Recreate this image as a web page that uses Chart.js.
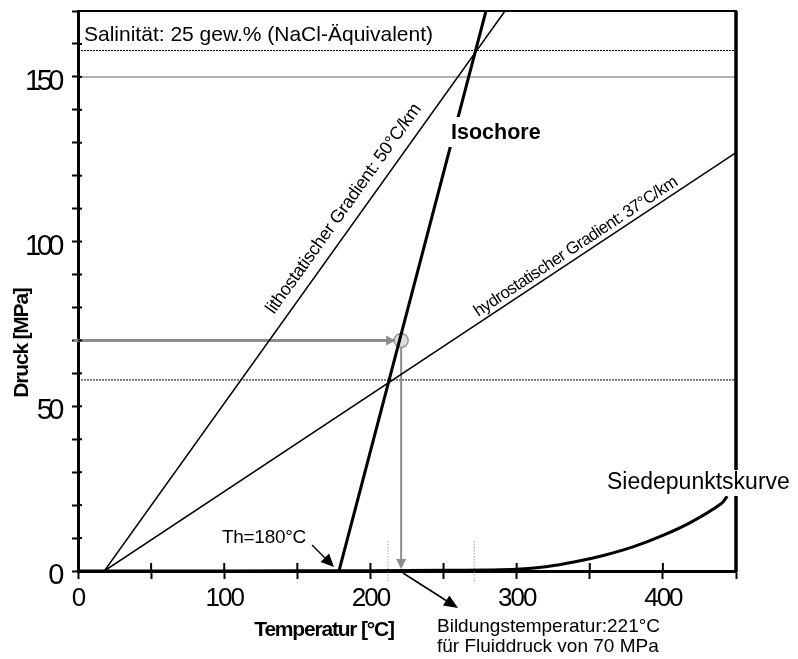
<!DOCTYPE html>
<html>
<head>
<meta charset="utf-8">
<script src="https://cdn.jsdelivr.net/npm/chart.js@4.4.0/dist/chart.umd.min.js"></script>
<style>
  body { margin: 0; background: #fff; }
  #wrap { width: 798px; height: 659px; }
</style>
</head>
<body>
<div id="wrap"><canvas id="ptChart" width="798" height="659"></canvas></div>
<script>
// P-T diagram: gradients, isochore and boiling curve
const FONT = "'Liberation Sans', Arial, sans-serif";

const lithoT = [18, 292];
const lithoP = [0, 170];
const hydroT = [18, 450];
const hydroP = [0, 127];
const isoT = [178.5, 279];
const isoP = [0, 170];
const boilT = [0, 100, 200, 250, 280, 300, 320, 340, 360, 380, 400, 420, 440, 444];
const boilP = [0, 0, 0.1, 0.2, 0.3, 0.5, 1.3, 2.8, 4.8, 7.4, 10.8, 15, 20.5, 22.7];

const salinityP = 158;   // dotted line, salinity limit
const upperRefP = 150;   // grey reference line
const lowerDotP = 58;    // dotted line at gradient crossing
const fluidT = 221;      // formation temperature
const fluidP = 70;       // fluid pressure
const markT = [212, 271];

const xMin = 0, xMax = 450, xStep = 50;
const yMin = 0, yMax = 170, yStep = 10;
const xLabels = [0, 100, 200, 300, 400];
const yLabels = [0, 50, 100, 150];

function pts(xs, ys) {
  return xs.map((x, i) => ({ x: x, y: ys[i] }));
}

function text(ctx, str, x, y, font, align, spacing) {
  ctx.save();
  ctx.font = font;
  ctx.fillStyle = '#000';
  ctx.textAlign = align || 'left';
  ctx.textBaseline = 'alphabetic';
  ctx.letterSpacing = spacing || '0px';
  ctx.fillText(str, x, y);
  ctx.restore();
}

function arrowHead(ctx, x1, y1, x2, y2, len, half, color) {
  const a = Math.atan2(y2 - y1, x2 - x1);
  ctx.save();
  ctx.fillStyle = color;
  ctx.beginPath();
  ctx.moveTo(x2, y2);
  ctx.lineTo(x2 - len * Math.cos(a) + half * Math.sin(a), y2 - len * Math.sin(a) - half * Math.cos(a));
  ctx.lineTo(x2 - len * Math.cos(a) - half * Math.sin(a), y2 - len * Math.sin(a) + half * Math.cos(a));
  ctx.closePath();
  ctx.fill();
  ctx.restore();
}

function line(ctx, x1, y1, x2, y2, w, color) {
  ctx.save();
  ctx.strokeStyle = color;
  ctx.lineWidth = w;
  ctx.beginPath();
  ctx.moveTo(x1, y1);
  ctx.lineTo(x2, y2);
  ctx.stroke();
  ctx.restore();
}

// tighter digit spacing for the tick labels
const tickSpacing = { x: '-2px', y: '-4.5px' };
const tightTicks = {
  id: 'tightTicks',
  beforeDraw(chart) {
    Object.keys(tickSpacing).forEach(id => {
      const s = chart.scales[id];
      if (s._tight) return;
      const orig = s.drawLabels.bind(s);
      s.drawLabels = function (area) {
        chart.ctx.save();
        chart.ctx.letterSpacing = tickSpacing[id];
        orig(area);
        chart.ctx.restore();
      };
      s._tight = true;
    });
  }
};

const decorations = {
  id: 'decorations',
  afterDatasetsDraw(chart) {
    const ctx = chart.ctx;
    const xs = chart.scales.x, ys = chart.scales.y;
    const px = v => xs.getPixelForValue(v);
    const py = v => ys.getPixelForValue(v);
    const area = chart.chartArea;

    // inner halves of the tick marks
    ys.ticks.forEach(t => line(ctx, area.left, py(t.value), area.left + 4, py(t.value), 2, '#000'));
    xs.ticks.forEach(t => line(ctx, px(t.value), area.bottom, px(t.value), area.bottom - 8, 2, '#000'));

    // top and right frame
    line(ctx, area.left - 1, py(yMax), px(xMax) + 1, py(yMax), 2, '#000');
    line(ctx, px(xMax), py(yMax), px(xMax), py(yMin) + 1, 3.5, '#000');

    // grey arrows to the fluid point and down to the axis
    arrowHead(ctx, px(0), py(fluidP), px(fluidT) - 6, py(fluidP), 9, 5, '#8c8c8c');
    arrowHead(ctx, px(fluidT), py(fluidP), px(fluidT), py(0) - 2, 10, 5, '#8c8c8c');

    // Isochore label on white
    ctx.save();
    ctx.fillStyle = '#fff';
    ctx.fillRect(449, 117, 96, 30);
    ctx.restore();
    text(ctx, 'Isochore', 451, 139, 'bold 21.5px ' + FONT);

    // Siedepunktskurve label on white
    ctx.save();
    ctx.fillStyle = '#fff';
    ctx.fillRect(604, 470, 192, 26);
    ctx.restore();
    text(ctx, 'Siedepunktskurve', 607, 489, '23px ' + FONT);

    text(ctx, 'Salinität: 25 gew.% (NaCl-Äquivalent)', 84, 41, '21px ' + FONT);

    // rotated gradient labels along their lines, above the line
    const along = (tArr, pArr, frac, off, str, font, spacing) => {
      const x1 = px(tArr[0]), y1 = py(pArr[0]);
      const x2 = px(tArr[1]), y2 = py(pArr[1]);
      const a = Math.atan2(y2 - y1, x2 - x1);
      const cx = x1 + (x2 - x1) * frac, cy = y1 + (y2 - y1) * frac;
      ctx.save();
      ctx.translate(cx + off * Math.sin(a), cy - off * Math.cos(a));
      ctx.rotate(a);
      ctx.font = font;
      ctx.fillStyle = '#000';
      ctx.textAlign = 'center';
      ctx.textBaseline = 'middle';
      ctx.letterSpacing = spacing;
      ctx.fillText(str, 0, 0);
      ctx.restore();
    };
    along(lithoT, lithoP, 0.63, 16, 'lithostatischer Gradient: 50°C/km', '18px ' + FONT, '-0.3px');
    along(hydroT, hydroP, 0.755, 10, 'hydrostatischer Gradient: 37°C/km', '17px ' + FONT, '-0.6px');

    // Th annotation
    text(ctx, 'Th=180°C', 222, 543, '19px ' + FONT, 'left', '-0.3px');
    line(ctx, 312, 545, 328, 561, 1.5, '#000');
    arrowHead(ctx, 312, 545, 334, 567, 13, 6, '#000');

    // formation temperature annotation
    line(ctx, 403, 573, 450, 603, 1.5, '#000');
    arrowHead(ctx, 403, 573, 458, 608, 14, 6, '#000');
    text(ctx, 'Bildungstemperatur:221°C', 437, 632, '19px ' + FONT);
    text(ctx, 'für Fluiddruck von 70 MPa', 437, 652, '19px ' + FONT);

    // axis titles
    ctx.save();
    ctx.translate(22, 343);
    ctx.rotate(-Math.PI / 2);
    ctx.font = 'bold 21px ' + FONT;
    ctx.letterSpacing = '-1.2px';
    ctx.fillStyle = '#000';
    ctx.textAlign = 'center';
    ctx.textBaseline = 'middle';
    ctx.fillText('Druck [MPa]', 0, 0);
    ctx.restore();
    text(ctx, 'Temperatur [°C]', 324, 636, 'bold 21px ' + FONT, 'center', '-1.2px');
  }
};

const ds = (data, color, width, extra) => Object.assign({
  data: data,
  showLine: true,
  borderColor: color,
  borderWidth: width,
  pointRadius: 0,
  fill: false,
  tension: 0
}, extra || {});

new Chart(document.getElementById('ptChart'), {
  type: 'scatter',
  data: {
    datasets: [
      ds([{ x: fluidT, y: fluidP }], '#999', 1.5, { showLine: false, pointRadius: 7, pointBackgroundColor: '#ddd', pointBorderColor: '#999', pointBorderWidth: 1.5, order: 5 }),
      ds(pts(isoT, isoP), '#000', 3, { order: 1 }),
      ds(pts(lithoT, lithoP), '#000', 1.5, { order: 2 }),
      ds(pts(hydroT, hydroP), '#000', 1.5, { order: 3 }),
      ds(pts(boilT, boilP), '#000', 3, { order: 4, tension: 0.3 }),
      ds([{ x: -3, y: fluidP }, { x: fluidT - 4, y: fluidP }], '#8c8c8c', 3, { order: 6, clip: false }),
      ds([{ x: fluidT, y: fluidP }, { x: fluidT, y: 3 }], '#8c8c8c', 2, { order: 7 }),
      ds(pts([xMin, xMax], [salinityP, salinityP]), '#000', 1, { borderDash: [2, 1], order: 8 }),
      ds(pts([xMin, xMax], [upperRefP, upperRefP]), '#999', 1.5, { order: 9 }),
      ds(pts([xMin, xMax], [lowerDotP, lowerDotP]), '#000', 1, { borderDash: [2, 1], order: 10 }),
      ds(pts([markT[0], markT[0]], [9, -3.5]), '#777', 1, { borderDash: [1, 2], order: 11, clip: false }),
      ds(pts([markT[1], markT[1]], [9, -3.5]), '#777', 1, { borderDash: [1, 2], order: 12, clip: false })
    ]
  },
  options: {
    responsive: false,
    animation: false,
    events: [],
    layout: { padding: { left: 0, right: 62, top: 11, bottom: 0 } },
    plugins: { legend: { display: false }, tooltip: { enabled: false } },
    scales: {
      x: {
        type: 'linear',
        min: xMin, max: xMax,
        border: { display: true, width: 3, color: '#000' },
        grid: { drawOnChartArea: false, tickLength: 8, tickWidth: 2, tickColor: '#000' },
        ticks: {
          stepSize: xStep, autoSkip: false, maxRotation: 0, padding: 4,
          color: '#000', font: { family: FONT, size: 26 },
          callback: v => xLabels.includes(v) ? String(v) : ''
        },
        afterFit: s => { s.height = 88; s.paddingLeft = 0; s.paddingRight = 0; }
      },
      y: {
        type: 'linear',
        min: yMin, max: yMax,
        border: { display: true, width: 3, color: '#000' },
        grid: { drawOnChartArea: false, tickLength: 6, tickWidth: 2, tickColor: '#000' },
        ticks: {
          stepSize: yStep, autoSkip: false, padding: 12, labelOffset: 5,
          color: '#000', font: { family: FONT, size: 29 },
          callback: v => yLabels.includes(v) ? String(v) : ''
        },
        afterFit: s => { s.width = 78; s.paddingTop = 0; s.paddingBottom = 0; }
      }
    }
  },
  plugins: [tightTicks, decorations]
});
</script>
</body>
</html>
